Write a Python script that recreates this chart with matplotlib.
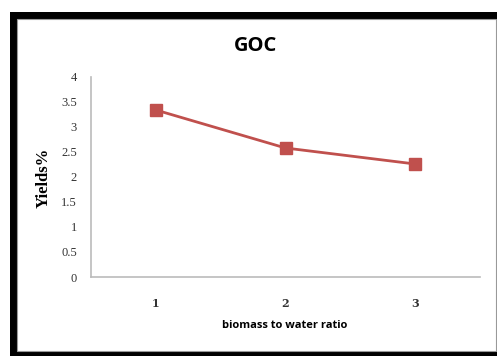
import matplotlib.pyplot as plt
from matplotlib.patches import Rectangle

ratio = [1, 2, 3]
yields = [3.34, 2.58, 2.26]
yticks = [0, 0.5, 1, 1.5, 2, 2.5, 3, 3.5, 4]
ytick_labels = ["0", "0.5", "1", "1.5", "2", "2.5", "3", "3.5", "4"]

W, H = 497, 356
fig = plt.figure(figsize=(W / 100, H / 100), dpi=100)
fig.patch.set_facecolor("white")

# black frame around the chart area
fig.patches.append(Rectangle((10 / W, 0), 1, 1 - 12 / H, transform=fig.transFigure,
                             facecolor="black", edgecolor="none", zorder=0))
fig.patches.append(Rectangle((17 / W, 5 / H), (495.5 - 17) / W, (351 - 19) / H,
                             transform=fig.transFigure, facecolor="white",
                             edgecolor="#999999", linewidth=0.8, zorder=1))

ax = fig.add_axes([91 / W, 1 - 277 / H, (480 - 91) / W, 200 / H])
ax.set_zorder(5)
ax.set_facecolor("none")
ax.plot(ratio, yields, color="#C0504D", linewidth=2, marker="s", markersize=8,
        markerfacecolor="#C0504D", markeredgecolor="#C0504D", clip_on=False)

ax.set_xlim(0.5, 3.5)
ax.set_ylim(0, 4)
ax.set_xticks(ratio)
ax.set_xticklabels([str(r) for r in ratio], family="DejaVu Serif", fontsize=8,
                   fontweight="bold", color="#333333")
ax.set_yticks(yticks)
ax.set_yticklabels(ytick_labels, family="Liberation Serif", fontsize=9, color="#333333")
ax.tick_params(axis="y", length=0, pad=10)
ax.tick_params(axis="x", length=0, pad=15)

for side in ["top", "right"]:
    ax.spines[side].set_visible(False)
for side in ["left", "bottom"]:
    ax.spines[side].set_color("#BBBBBB")
    ax.spines[side].set_linewidth(1.2)

fig.text(255 / W, 1 - 46 / H, "GOC", ha="center", va="center", fontsize=14.5,
         fontweight="bold", family="Open Sans", zorder=5)
fig.text(285 / W, 1 - 326 / H, "biomass to water ratio", ha="center", va="center",
         fontsize=8, fontweight="bold", family="Open Sans", zorder=5)
fig.text(44 / W, 1 - 178 / H, "Yields%", ha="center", va="center", rotation=90,
         fontsize=12, fontweight="bold", family="Liberation Serif", zorder=5)

fig.savefig("out.png", dpi=100)
